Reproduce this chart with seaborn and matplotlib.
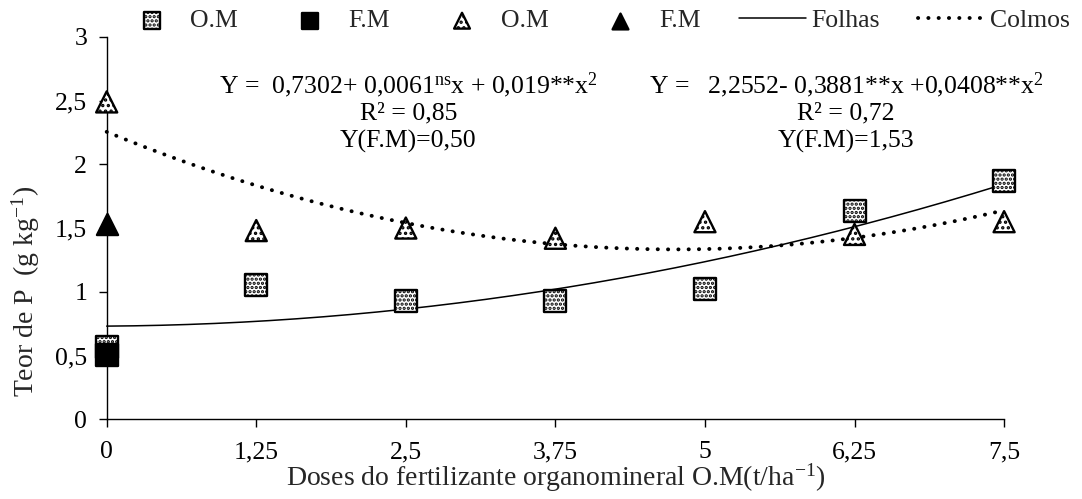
import numpy as np
import pandas as pd
import matplotlib
matplotlib.use("Agg")
import matplotlib.pyplot as plt
from matplotlib.collections import PathCollection
import seaborn as sns

# Doses of organomineral fertilizer (t/ha)
doses = [0, 1.25, 2.5, 3.75, 5, 6.25, 7.5]
# P content in leaves (Folhas) and stalks (Colmos) under O.M
folhas_om = [0.57, 1.05, 0.93, 0.93, 1.02, 1.63, 1.87]
colmos_om = [2.49, 1.48, 1.50, 1.42, 1.55, 1.45, 1.55]
# Mineral fertilizer (F.M) reference values
folhas_fm = [0.50]
colmos_fm = [1.53]
# Quadratic fit coefficients (b0, b1, b2)
coef_folhas = [0.7302, 0.0061, 0.019]
coef_colmos = [2.2552, -0.3881, 0.0408]

x_ticks = [0, 1.25, 2.5, 3.75, 5, 6.25, 7.5]
x_ticklabels = ["0", "1,25", "2,5", "3,75", "5", "6,25", "7,5"]
y_ticks = [0, 0.5, 1, 1.5, 2, 2.5, 3]
y_ticklabels = ["0", "0,5", "1", "1,5", "2", "2,5", "3"]

FS = 18.5
FS_LABEL = 20

sns.set_style("ticks")
plt.rcParams["font.family"] = ["Liberation Serif", "DejaVu Serif"]
plt.rcParams["mathtext.fontset"] = "custom"
plt.rcParams["mathtext.rm"] = "Liberation Serif"
plt.rcParams["mathtext.it"] = "Liberation Serif"
plt.rcParams["hatch.linewidth"] = 1.6
plt.rcParams["font.size"] = FS

fig = plt.figure(figsize=(10.82, 4.99), dpi=100)
ax = fig.add_axes([0.0986, 0.160, 0.8294, 0.766])

# fitted curves
xs = np.linspace(0, 7.5, 200)
fit = pd.DataFrame({
    "x": xs,
    "folhas": coef_folhas[0] + coef_folhas[1] * xs + coef_folhas[2] * xs ** 2,
    "colmos": coef_colmos[0] + coef_colmos[1] * xs + coef_colmos[2] * xs ** 2,
})
sns.lineplot(data=fit, x="x", y="folhas", ax=ax, color="black", linewidth=1.1,
             label="Folhas", legend=False, errorbar=None)
sns.lineplot(data=fit, x="x", y="colmos", ax=ax, color="black", linewidth=2.8,
             linestyle=(0, (0.05, 2.6)), dash_capstyle="round",
             label="Colmos", legend=False, errorbar=None)

pts = dict(edgecolor="black", linewidth=1.7, legend=False, zorder=3)
sns.scatterplot(x=doses, y=folhas_om, ax=ax, marker="s", s=250,
                color="white", hatch="....", label="om_folhas", **pts)
sns.scatterplot(x=[0] * len(folhas_fm), y=folhas_fm, ax=ax, marker="s", s=250,
                color="black", label="fm_folhas", **pts)
sns.scatterplot(x=doses, y=colmos_om, ax=ax, marker="^", s=230,
                color="white", hatch="...", label="om_colmos", **pts)
sns.scatterplot(x=[0] * len(colmos_fm), y=colmos_fm, ax=ax, marker="^", s=230,
                color="black", label="fm_colmos", **pts)

points = {c.get_label(): c for c in ax.collections if isinstance(c, PathCollection)}
for c in ax.collections:
    c.set_clip_on(False)
for l in ax.lines:
    l.set_clip_on(False)

ax.set_xlim(0, 7.5)
ax.set_ylim(0, 3)
ax.set_xticks(x_ticks)
ax.set_xticklabels(x_ticklabels)
ax.set_yticks(y_ticks)
ax.set_yticklabels(y_ticklabels)
ax.tick_params(axis="both", direction="out", length=6, width=1, labelsize=FS,
               color="black", labelcolor="black")
ax.tick_params(axis="x", pad=10)
ax.tick_params(axis="y", pad=8)
for side in ("left", "bottom"):
    ax.spines[side].set_color("black")
    ax.spines[side].set_linewidth(1)
sns.despine(ax=ax)

ax.set_xlabel("Doses do fertilizante organomineral O.M(t/ha$^{-1}$)", fontsize=FS_LABEL)
ax.xaxis.set_label_coords(0.5, -0.112)
ax.set_ylabel("Teor de P  (g kg$^{-1}$)", fontsize=FS_LABEL)
ax.yaxis.set_label_coords(-0.072, 0.335)

eq_kw = dict(ha="center", va="center", fontsize=FS, color="black")
ax.text(2.52, 2.62, r"Y =  0,7302+ 0,0061$^{\mathrm{ns}}$x + 0,019**x$^{2}$", **eq_kw)
ax.text(2.52, 2.40, "R² = 0,85", **eq_kw)
ax.text(2.52, 2.18, "Y(F.M)=0,50", **eq_kw)
ax.text(6.18, 2.62, r"Y =   2,2552- 0,3881**x +0,0408**x$^{2}$", **eq_kw)
ax.text(6.18, 2.40, "R² = 0,72", **eq_kw)
ax.text(6.18, 2.18, "Y(F.M)=1,53", **eq_kw)

handles = [points["om_folhas"], points["fm_folhas"], points["om_colmos"],
           points["fm_colmos"], ax.lines[0], ax.lines[1]]
labels = ["O.M", "F.M", "O.M", "F.M", "Folhas", "Colmos"]
fig.legend(handles, labels, loc="center", bbox_to_anchor=(0.549, 0.958),
           ncol=6, frameon=False, fontsize=FS, handlelength=2.6,
           handletextpad=0.2, columnspacing=1.5, markerscale=0.75,
           scatterpoints=1, borderpad=0, borderaxespad=0)

fig.savefig("out.png", dpi=100, facecolor="white")
